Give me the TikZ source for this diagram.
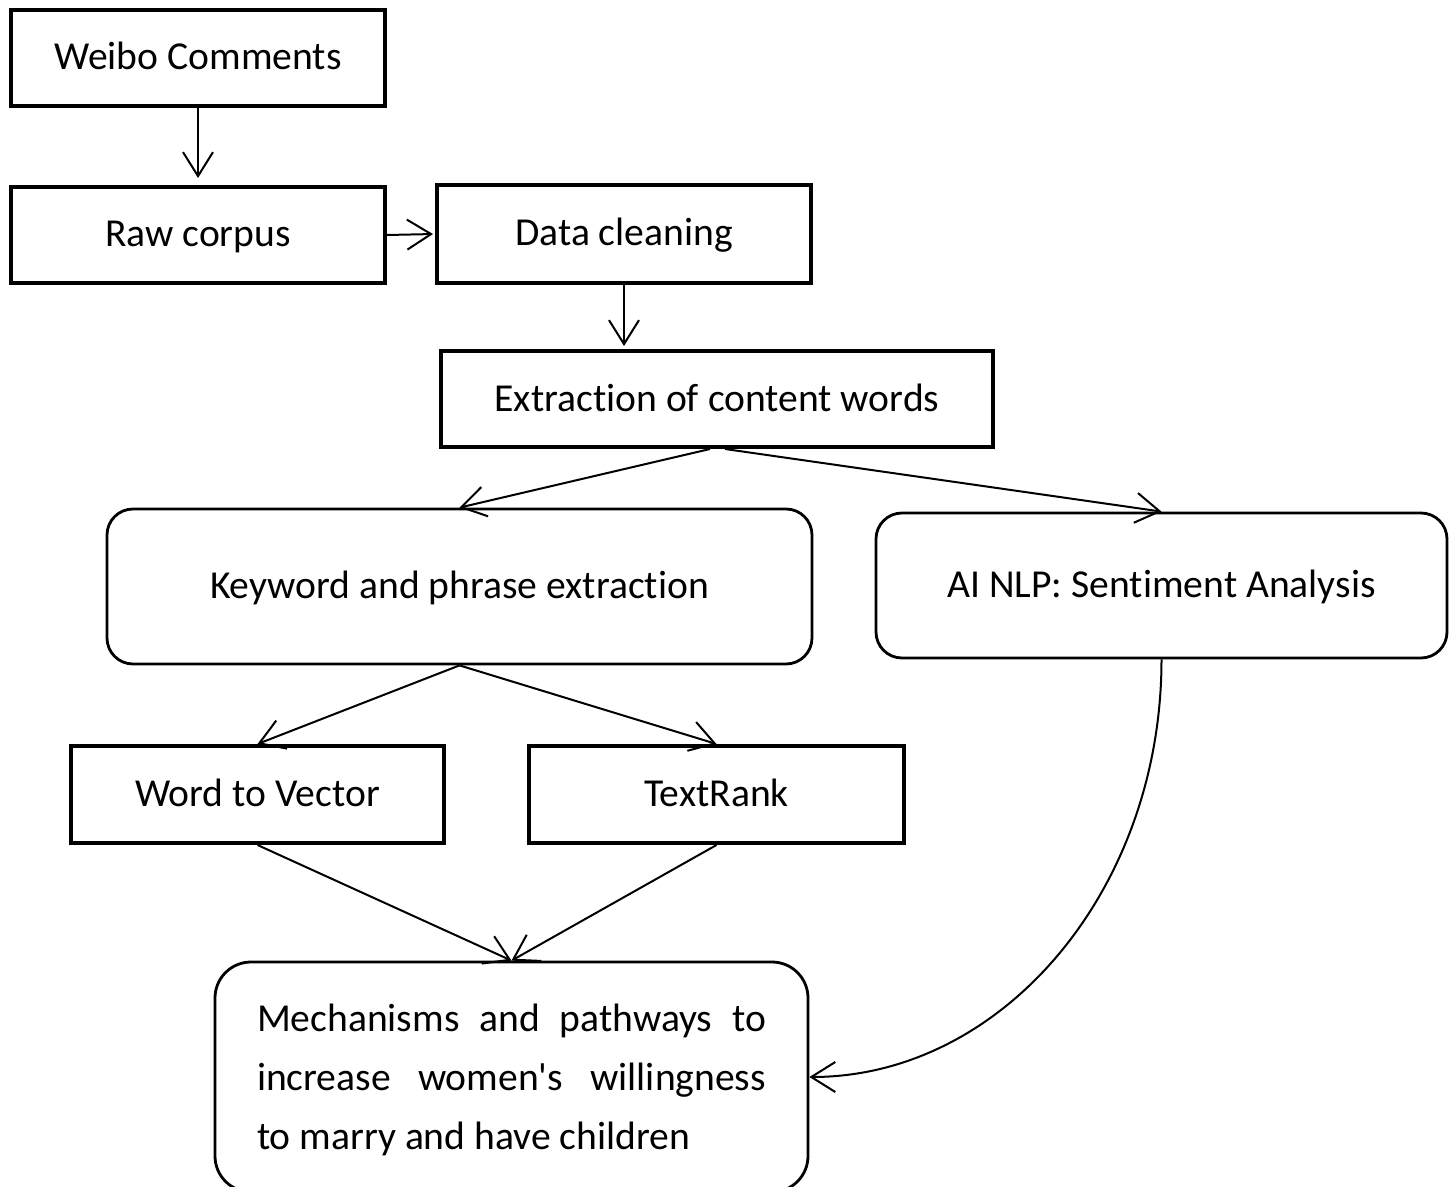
\documentclass[tikz,border=0pt]{standalone}
\usepackage{fontspec}
\newfontfamily\carl{Carlito}[Ligatures=NoCommon]
\usetikzlibrary{arrows.meta}
\begin{document}
\begin{tikzpicture}[x=0.5pt,y=-0.5pt,
  lbl/.style={font=\carl\fontsize{19.8pt}{23pt}\selectfont, text=black},
  sqbox/.style={lbl, draw, line width=2pt, rectangle, inner sep=0pt, text height=17pt, text depth=5pt},
  rbox/.style={lbl, draw, line width=1.4pt, rectangle, rounded corners=13pt, inner sep=0pt, text height=17pt, text depth=5pt},
  conn/.style={line width=1pt, -{Straight Barb[length=12pt,width=15pt]}},
]
\useasboundingbox (0,0) rectangle (1455,1187);
\fill[white] (0,0) rectangle (1455,1187);

\node[sqbox, minimum width=187pt, minimum height=48pt] (weibo) at (198,58) {Weibo Comments};
\node[sqbox, minimum width=187pt, minimum height=48pt] (raw) at (198,235) {Raw corpus};
\node[sqbox, minimum width=187pt, minimum height=49pt] (clean) at (624,234) {Data cleaning};
\node[sqbox, minimum width=276pt, minimum height=48pt] (extract) at (717,399) {Extraction of content words};
\node[rbox, minimum width=352.5pt, minimum height=77.5pt] (kw) at (459.5,586.5) {Keyword and phrase extraction};
\node[rbox, minimum width=285.5pt, minimum height=72.5pt] (ai) at (1161.5,585.5) {AI NLP: Sentiment Analysis};
\node[sqbox, minimum width=186.5pt, minimum height=48.5pt] (w2v) at (257.5,794.5) {Word to Vector};
\node[sqbox, minimum width=187.5pt, minimum height=48.5pt] (tr) at (716.5,794.5) {TextRank};
\node[draw, line width=1.4pt, rectangle, rounded corners=18pt, inner sep=0pt, minimum width=296.5pt, minimum height=115pt] (mech) at (511.5,1077) {};
\node[lbl, inner sep=0pt] (mtext) at ([yshift=-1.5pt]mech.center) {\vbox{\baselineskip=29.5pt
  \hbox to 254.5pt{Mechanisms\hfill and\hfill pathways\hfill to}
  \hbox to 254.5pt{increase\hfill women's\hfill willingness}
  \hbox to 254.5pt{to marry and have children\hfill}}};

\draw[conn, shorten >=3.5pt] (weibo.south) -- (raw.north);
\draw[conn, shorten >=1pt] (raw.east) -- (clean.west);
\draw[conn, shorten >=1.5pt] (clean.south) -- (clean.south |- extract.north);
\draw[conn] ([xshift=-3.5pt]extract.south) -- (kw.north);
\draw[conn] ([xshift=4pt]extract.south) -- (ai.north);
\draw[conn] (kw.south) -- (w2v.north);
\draw[conn] (kw.south) -- (tr.north);
\draw[conn] (w2v.south) -- (mech.north);
\draw[conn] (tr.south) -- (mech.north);
\draw[conn] (ai.south) .. controls +(0,231) and +(193,0) .. (mech.east);
\end{tikzpicture}
\end{document}
